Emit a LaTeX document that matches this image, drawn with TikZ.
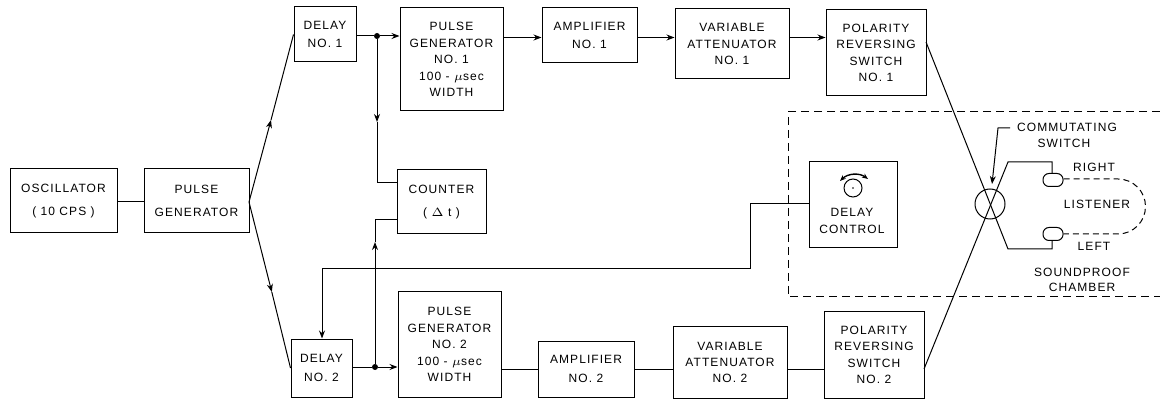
\documentclass[tikz,border=0pt]{standalone}
\usepackage{fontspec}
\setmainfont{Liberation Sans}
\usetikzlibrary{arrows.meta, positioning}
\begin{document}
\begin{tikzpicture}[
        x=0.5pt, y=-0.5pt,
        label/.style={align=center, inner sep=0pt, font=\fontsize{6}{8.2}\selectfont\addfontfeature{LetterSpace=9}},
        block/.style={label, rectangle, draw, line width=0.5pt},
        wire/.style={draw, line width=0.5pt},
        tip/.style={-{Stealth[length=4pt,width=3pt]}, line width=0.5pt},
        dot/.style={circle, fill, inner sep=0pt, minimum size=3pt},
        ear/.style={rectangle, draw, rounded corners=3pt, line width=0.5pt, minimum width=10pt, minimum height=6.5pt, inner sep=0pt}
        ]
        \useasboundingbox (0,0) rectangle (1160,400);

        % Nodes
        \node (osc) [block, minimum width=53.5pt, minimum height=32pt] at (63.5,201) {OSCILLATOR\\[3pt]( 10 CPS )};
        \node (pulse) [block, minimum width=52.5pt, minimum height=32pt] at (196.5,201) {PULSE\\[3pt]GENERATOR};
        \node (delay1) [block, minimum width=31pt, minimum height=27.5pt] at (325,34.5) {DELAY\\[1pt]NO. 1};
        \node (gen1) [block, minimum width=51.5pt, minimum height=51.5pt] at (451.5,59.5) {PULSE\\GENERATOR\\NO. 1\\100 - $\mu$sec\\WIDTH};
        \node (amp1) [block, minimum width=47.5pt, minimum height=27.5pt] at (589.5,35.5) {AMPLIFIER\\[1pt]NO. 1};
        \node (att1) [block, minimum width=57pt, minimum height=35pt] at (732,44) {VARIABLE\\ATTENUATOR\\NO. 1};
        \node (rev1) [block, minimum width=50pt, minimum height=43pt] at (876,53) {POLARITY\\REVERSING\\SWITCH\\NO. 1};
        \node (counter) [block, minimum width=44.5pt, minimum height=32pt] at (441.5,202) {COUNTER\\[3pt]( $\Delta$ t )};
        \node (delay2) [block, minimum width=30.5pt, minimum height=29pt] at (321.5,368) {DELAY\\[1pt]NO. 2};
        \node (gen2) [block, minimum width=51.5pt, minimum height=52.5pt] at (449.5,344.5) {PULSE\\GENERATOR\\NO. 2\\100 - $\mu$sec\\WIDTH};
        \node (amp2) [block, minimum width=48pt, minimum height=28pt] at (586,369) {AMPLIFIER\\[1pt]NO. 2};
        \node (att2) [block, minimum width=57pt, minimum height=35.5pt] at (730,362.5) {VARIABLE\\ATTENUATOR\\NO. 2};
        \node (rev2) [block, minimum width=50pt, minimum height=43pt] at (874,355) {POLARITY\\REVERSING\\SWITCH\\NO. 2};
        \node (control) [block, minimum width=44pt, minimum height=43pt] at (853,205) {};
        \node (controltext) [label] at (852,221) {DELAY\\CONTROL};
        \node (knob) [circle, draw, line width=0.5pt, minimum size=9pt, inner sep=0pt] at (853,188) {};
        \node (knobdot) [circle, fill, inner sep=0pt, minimum size=0.8pt] at (853,188) {};
        \node (switch) [circle, draw, line width=0.5pt, minimum size=15pt, inner sep=0pt] at (990,204) {};
        \node (commutating) [label] at (1067,127) {COMMUTATING};
        \node (switchtext) [label] at (1064,143) {SWITCH};
        \node (right) [label] at (1094,167) {RIGHT};
        \node (left) [label] at (1094,246) {LEFT};
        \node (listener) [label] at (1097,204) {LISTENER};
        \node (chamber) [label] at (1082,279.5) {SOUNDPROOF\\[-0.7pt]CHAMBER};
        \node (earright) [ear] at (1053,180) {};
        \node (earleft) [ear] at (1053,234) {};

        % Junctions and corners
        \coordinate (fork) at (249,202);
        \node (dot1) [dot] at (377,36) {};
        \node (dot2) [dot] at (375,367) {};
        \coordinate (linetop) at (0,37.5);
        \coordinate (linebottom) at (0,369);
        \coordinate (c1) at (377,183);
        \coordinate (c2) at (375,220);
        \coordinate (c3) at (322,269);
        \coordinate (c4) at (750,269);
        \coordinate (c5) at (750,204);
        \coordinate (m1) at (271,120);
        \coordinate (m2) at (271.8,292);
        \coordinate (m3) at (377,122);
        \coordinate (m4) at (375,242);

        % Connectors
        \draw [wire] (osc.east |- fork) -- (pulse.west |- fork);
        \draw [tip] (fork) -- (m1);
        \draw [wire] (m1) -- (delay1.west);
        \draw [tip] (fork) -- (m2);
        \draw [wire] (m2) -- (delay2.west);
        \draw [wire] (delay1.east |- dot1) -- (dot1);
        \draw [tip] (dot1) -- (gen1.west |- dot1);
        \draw [tip] (gen1.east |- linetop) -- (amp1.west |- linetop);
        \draw [tip] (amp1.east |- linetop) -- (att1.west |- linetop);
        \draw [tip] (att1.east |- linetop) -- (rev1.west |- linetop);
        \draw [tip] (dot1) -- (m3);
        \draw [wire] (m3) -- (c1) -- (counter.west |- c1);
        \draw [wire] (delay2.east |- dot2) -- (dot2);
        \draw [tip] (dot2) -- (gen2.west |- dot2);
        \draw [tip] (dot2) -- (m4);
        \draw [wire] (m4) -- (c2) -- (counter.west |- c2);
        \draw [wire] (gen2.east |- linebottom) -- (amp2.west |- linebottom);
        \draw [wire] (amp2.east |- linebottom) -- (att2.west |- linebottom);
        \draw [wire] (att2.east |- linebottom) -- (rev2.west |- linebottom);
        \draw [wire] (control.west |- c5) -- (c5) -- (c4) -- (c3);
        \draw [tip] (c3) -- (delay2.north -| c3);

        % Switch wiring
        \coordinate (r1) at (926,42);
        \coordinate (r2) at (924,369);
        \coordinate (e1) at (1008,162);
        \coordinate (e2) at (1052,162);
        \coordinate (e3) at (1008,249);
        \coordinate (e4) at (1052,249);
        \draw [wire] (r1) -- (e3) -- (e4) -- (earleft.south -| e4);
        \draw [wire] (r2) -- (e1) -- (e2) -- (earright.north -| e2);

        % Chamber
        \coordinate (room1) at (1160,112);
        \coordinate (room2) at (788,112);
        \coordinate (room3) at (788,297);
        \coordinate (room4) at (1160,297);
        \draw [dash pattern=on 4pt off 2.5pt, line width=0.5pt] (room1) -- (room2) -- (room3) -- (room4);

        % Listener outline
        \draw [dash pattern=on 3pt off 2pt, line width=0.5pt] (earright.east |- 0,179) -- (1118,179) arc[start angle=-90, end angle=90, x radius=27.5, y radius=27.5] -- (earleft.east);

        % Small arrows
        \coordinate (cs1) at (1010,128);
        \coordinate (cs2) at (998,128);
        \coordinate (cs3) at (992,184);
        \draw [tip] (cs1) -- (cs2) -- (cs3);
        \coordinate (knobleft) at (840,181);
        \coordinate (knobright) at (868,179);
        \draw [{Stealth[length=3pt,width=2.4pt]}-{Stealth[length=3pt,width=2.4pt]}, line width=0.7pt] (knobleft) to[bend left=40] (knobright);

    \end{tikzpicture}
\end{document}
